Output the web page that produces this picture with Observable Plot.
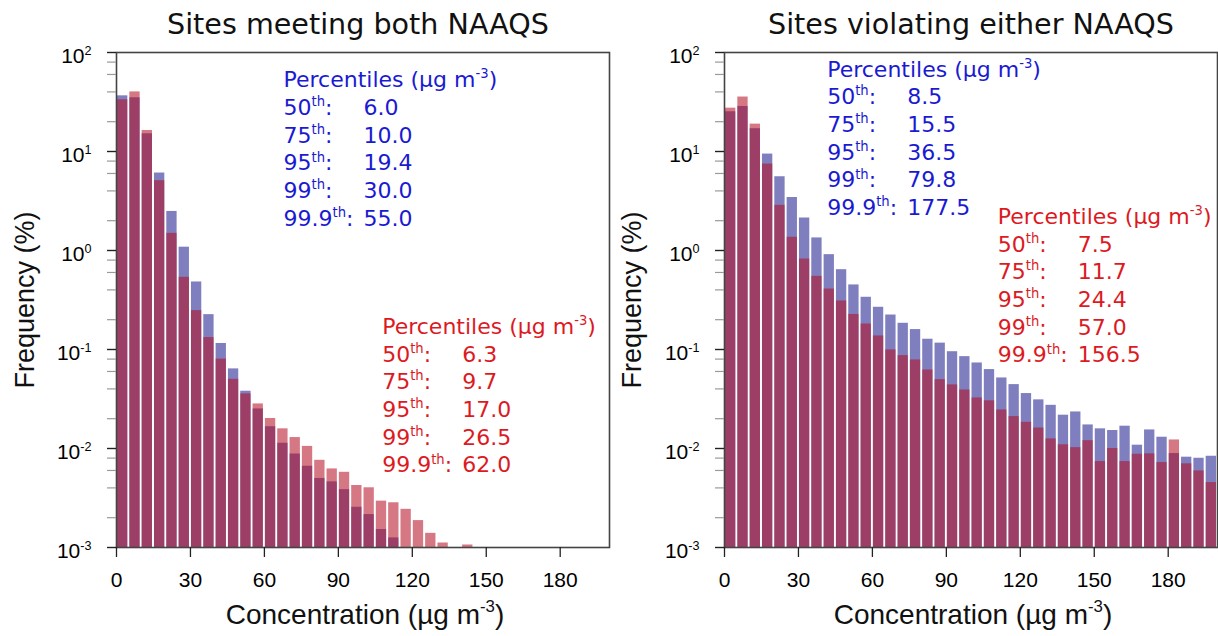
<!DOCTYPE html>
<html><head><meta charset="utf-8">
<script src="https://cdn.jsdelivr.net/npm/d3@7"></script>
<script src="https://cdn.jsdelivr.net/npm/@observablehq/plot@0.6"></script>
<style>
html,body{margin:0;padding:0;background:#fff;}
#wrap{position:relative;width:1218px;height:636px;overflow:hidden;background:#fff;}
#wrap svg{position:absolute;top:0;}
</style></head><body><div id="wrap"></div>
<script>
// ---------- data ----------
const binWidth = 5;
const binStarts = d3.range(0, 200, 5);
// Sites meeting both NAAQS (% frequency per 5 µg m-3 bin)
const meetBlue = [36.5, 34.9, 15.1, 6.06, 2.48, 1.08, 0.481, 0.225, 0.115, 0.0637,
  0.0379, 0.0251, 0.0166, 0.0113, 0.0088, 0.00662, 0.00498, 0.0046, 0.00384, 0.00255,
  0.00215, 0.00152, 0.00125, null, null, null, null, null, null, null,
  null, null, null, null, null, null, null, null, null, null];
const meetRed = [33.3, 40.0, 16.3, 5.07, 1.49, 0.536, 0.247, 0.132, 0.080, 0.050,
  0.0356, 0.0282, 0.0201, 0.0158, 0.0129, 0.0105, 0.0076, 0.00622, 0.00575, 0.00423,
  0.00401, 0.00294, 0.00283, 0.00243, 0.00187, 0.00139, 0.00111, null, 0.00106, null,
  null, null, null, null, null, null, null, null, null, null];
// Sites violating either NAAQS
const violBlue = [25.2, 28.5, 17.0, 9.42, 5.56, 3.43, 2.13, 1.34, 0.908, 0.64,
  0.449, 0.337, 0.267, 0.223, 0.184, 0.159, 0.127, 0.116, 0.095, 0.0847,
  0.0731, 0.0627, 0.0516, 0.0442, 0.0359, 0.0310, 0.0273, 0.0217, 0.0234, 0.0173,
  0.0158, 0.0152, 0.0168, 0.0108, 0.0154, 0.0130, 0.00889, 0.00817, 0.00797, 0.00835];
const violRed = [27.4, 35.5, 18.9, 7.47, 2.86, 1.36, 0.82, 0.548, 0.408, 0.309,
  0.226, 0.181, 0.137, 0.099, 0.0867, 0.0784, 0.0621, 0.0496, 0.0439, 0.039,
  0.0324, 0.0303, 0.0245, 0.0210, 0.0184, 0.0161, 0.0125, 0.0109, 0.0102, 0.0120,
  0.00738, 0.0100, 0.00738, 0.00875, 0.00883, 0.00721, 0.0122, 0.0070, 0.00594, 0.00453];

const xTicks = [0, 30, 60, 90, 120, 150, 180];
const yTicks = [1e-3, 1e-2, 1e-1, 1, 10, 100];
const yTickLabels = ["10^{-3}", "10^{-2}", "10^{-1}", "10^{0}", "10^{1}", "10^{2}"];
const yMinorTicks = [-3, -2, -1, 0, 1].flatMap(e => [2, 4, 6, 8].map(m => m * Math.pow(10, e)));

const pctHeader = "Percentiles (µg m^{-3})";
const pctNames = ["50^{th}:", "75^{th}:", "95^{th}:", "99^{th}:", "99.9^{th}:"];
const meetBluePct = ["6.0", "10.0", "19.4", "30.0", "55.0"];
const meetRedPct = ["6.3", "9.7", "17.0", "26.5", "62.0"];
const violBluePct = ["8.5", "15.5", "36.5", "79.8", "177.5"];
const violRedPct = ["7.5", "11.7", "24.4", "57.0", "156.5"];

const titles = ["Sites meeting both NAAQS", "Sites violating either NAAQS"];
const xLabel = "Concentration (µg m^{-3})";
const yLabel = "Frequency (%)";

// ---------- styling ----------
const AX_FONT = "'Liberation Sans', Arial, Helvetica, sans-serif";
const TX_FONT = "'DejaVu Sans', Verdana, sans-serif";
const BLUE_FILL = "#000080", RED_FILL = "#b40a1e";
const BLUE_TXT = "#1a1ad2", RED_TXT = "#dc1a1f";
const H = 636, MT = 52, MB = 89, LH = 27.7;

function makePanel(p) {
  const rowsOf = vals => binStarts.map((b, i) => ({lo: b, hi: b + binWidth, v: vals[i]}))
    .filter(d => d.v != null && d.v > 1e-3);
  const texts = [];
  const addLine = (str, px, baseline, color, size, family, anchor = "start") =>
    texts.push(Plot.text([str], {
      frameAnchor: "top-left", dx: px - p.left - p.marginLeft, dy: baseline - MT,
      lineAnchor: "bottom", textAnchor: anchor, fill: color, fontSize: size, fontFamily: family
    }));
  const block = (vals, color, X, B0) => {
    addLine(pctHeader, X, B0, color, 22, TX_FONT);
    pctNames.forEach((n, i) => {
      addLine(n, X, B0 + (i + 1) * LH, color, 22, TX_FONT);
      addLine(vals[i], X + 80, B0 + (i + 1) * LH, color, 22, TX_FONT);
    });
  };
  block(p.bluePct, BLUE_TXT, p.blueX, p.blueB);
  block(p.redPct, RED_TXT, p.redX, p.redB);

  return Plot.plot({
    width: p.width, height: H,
    marginLeft: p.marginLeft, marginRight: p.marginRight, marginTop: MT, marginBottom: MB,
    x: {domain: [0, 200], label: null},
    y: {type: "log", domain: [1e-3, 1e2], label: null},
    style: {fontFamily: AX_FONT, fontSize: "20px", color: "#000", background: "transparent", overflow: "visible"},
    marks: [
      Plot.rect(rowsOf(p.blue), {x1: "lo", x2: "hi", y1: d => 1e-3, y2: "v",
        fill: BLUE_FILL, fillOpacity: 0.5, insetLeft: 1, insetRight: 1}),
      Plot.rect(rowsOf(p.red), {x1: "lo", x2: "hi", y1: d => 1e-3, y2: "v",
        fill: RED_FILL, fillOpacity: 0.55, insetLeft: 1, insetRight: 1}),
      Plot.frame({stroke: "#444", strokeWidth: 1.6}),
      Plot.axisX(xTicks, {tickSize: 10, tickPadding: 15, stroke: "#222", strokeWidth: 1.3, label: null,
        fontSize: 21, fontFamily: AX_FONT}),
      Plot.axisY(yMinorTicks, {tickSize: 9, stroke: "#9a9a9a", strokeWidth: 1.2, fill: "none", label: null}),
      Plot.axisY(yTicks, {tickSize: 9, stroke: "#222", strokeWidth: 1.4, fill: "none", label: null}),
      Plot.axisY(yTicks, {tickSize: 0, tickPadding: 25, stroke: "none", dy: 4, label: null,
        fontSize: 21, fontFamily: AX_FONT,
        tickFormat: d => yTickLabels[yTicks.indexOf(d)]}),
      Plot.text([p.title], {frameAnchor: "top", dx: p.titleDx, dy: 33.3 - MT, lineAnchor: "bottom",
        fontSize: 28.6, fontFamily: TX_FONT, fill: "#111"}),
      Plot.text([xLabel], {frameAnchor: "bottom", dx: 2, dy: 623 - (H - MB), lineAnchor: "bottom",
        fontSize: 28, fontFamily: AX_FONT, fill: "#111"}),
      Plot.text([yLabel], {frameAnchor: "left", dx: p.yLabelX - p.left - p.marginLeft, rotate: -90,
        textAnchor: "middle", lineAnchor: "middle", fontSize: 27, fontFamily: AX_FONT, fill: "#111"}),
      ...texts
    ]
  });
}

// turn "a^{b}c" into tspans with a raised, smaller b
function richText(svg) {
  const ns = "http://www.w3.org/2000/svg";
  const leaves = [];
  svg.querySelectorAll("text").forEach(t => {
    const tsp = t.querySelectorAll("tspan");
    if (tsp.length) tsp.forEach(s => leaves.push(s)); else leaves.push(t);
  });
  leaves.forEach(el => {
    const s = el.textContent;
    if (!s.includes("^{")) return;
    const fs = parseFloat(getComputedStyle(el).fontSize) || 20;
    const parts = s.split(/\^\{([^}]*)\}/);
    el.textContent = "";
    let raised = false;
    parts.forEach((part, i) => {
      if (!part) return;
      const ts = document.createElementNS(ns, "tspan");
      ts.textContent = part;
      if (i % 2) {
        ts.setAttribute("font-size", (fs * 0.6).toFixed(1));
        ts.setAttribute("dy", (-fs * 0.4).toFixed(1));
        raised = true;
      } else if (raised) {
        ts.setAttribute("dy", (fs * 0.4).toFixed(1));
        raised = false;
      }
      el.appendChild(ts);
    });
  });
}

const wrap = document.getElementById("wrap");
const left = makePanel({
  left: 0, width: 612, marginLeft: 116, marginRight: 3,
  blue: meetBlue, red: meetRed, title: titles[0], titleDx: -5, yLabelX: 25,
  bluePct: meetBluePct, redPct: meetRedPct,
  blueX: 283, blueB: 86.7, redX: 381.7, redB: 333.3
});
left.style.left = "0px";
wrap.appendChild(left);
const right = makePanel({
  left: 612, width: 606, marginLeft: 112, marginRight: 1,
  blue: violBlue, red: violRed, title: titles[1], titleDx: 0, yLabelX: 632,
  bluePct: violBluePct, redPct: violRedPct,
  blueX: 826.7, blueB: 76, redX: 997.3, redB: 223.3
});
right.style.left = "612px";
wrap.appendChild(right);
richText(left);
richText(right);
</script></body></html>
